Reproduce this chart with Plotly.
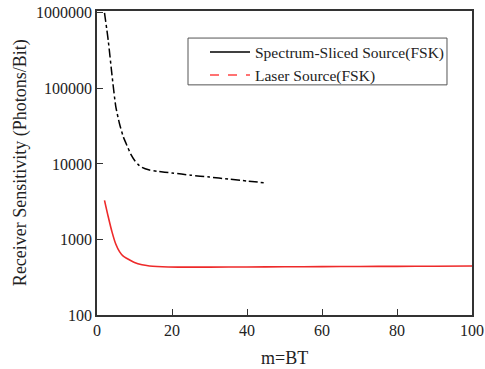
import plotly.graph_objects as go

# Spectrum-sliced source (FSK), dash-dot black
m_ss = [2, 3, 4, 5, 6, 7, 8, 9, 10, 11, 12, 14, 16, 20, 25, 30, 35, 40, 45]
s_ss = [1000000, 430000, 150000, 58000, 34000, 23000, 17500, 13500, 11200, 9800, 9000, 8300, 8000, 7600, 7100, 6700, 6300, 5950, 5600]

# Laser source (FSK), solid red
m_ls = [2, 3, 4, 5, 6, 7, 8, 10, 12, 14, 16, 19, 23, 30, 40, 50, 60, 70, 80, 90, 100]
s_ls = [3300, 2000, 1260, 870, 690, 600, 560, 495, 462, 446, 438, 432, 430, 431, 433, 435, 437, 439, 441, 443, 445]

x_ticks = [0, 20, 40, 60, 80, 100]
y_ticks = [100, 1000, 10000, 100000, 1000000]
legend_names = ["Spectrum-Sliced Source(FSK)", "Laser Source(FSK)"]

FONT = "Liberation Serif, Times New Roman, serif"

fig = go.Figure()
fig.add_trace(go.Scatter(x=m_ss, y=s_ss, mode="lines",
                         line=dict(color="black", width=1.5, dash="dashdot", shape="spline", smoothing=0.6),
                         showlegend=False))
fig.add_trace(go.Scatter(x=m_ls, y=s_ls, mode="lines",
                         line=dict(color="#ee2a2a", width=1.6, shape="spline", smoothing=0.8),
                         showlegend=False))
# legend entries (styles as in the original legend)
fig.add_trace(go.Scatter(x=[None], y=[None], mode="lines", line=dict(color="black", width=1.5), name=legend_names[0]))
fig.add_trace(go.Scatter(x=[None], y=[None], mode="lines", line=dict(color="#ff4444", width=1.5, dash="dash"),
                         name=legend_names[1]))

axis_common = dict(showline=True, linecolor="#333333", linewidth=1.5, mirror=True, ticks="inside", ticklen=6,
                   tickcolor="#333333", tickwidth=1.2, showgrid=False, zeroline=False, automargin=False,
                   tickfont=dict(family=FONT, size=16, color="#222222"))

fig.update_xaxes(range=[0, 100], tickvals=x_ticks, ticktext=[str(v) for v in x_ticks], **axis_common)
fig.update_yaxes(type="log", range=[2, 6.025], tickvals=y_ticks, ticktext=[str(v) for v in y_ticks], **axis_common)

fig.update_layout(
    width=485, height=369,
    margin=dict(l=97, r=13, t=11, b=54),
    plot_bgcolor="white", paper_bgcolor="white",
    font=dict(family=FONT, color="#222222"),
    legend=dict(x=0.288, y=0.92, xanchor="left", yanchor="top", borderwidth=0,
                bgcolor="rgba(0,0,0,0)", font=dict(family=FONT, size=15.5, color="#222222"), tracegroupgap=0,
                itemwidth=40),
    shapes=[dict(type="rect", xref="paper", yref="paper", x0=0.2427, x1=0.9333, y0=0.757, y1=0.911,
                 line=dict(color="#555555", width=1), fillcolor="rgba(0,0,0,0)", layer="below")],
    annotations=[
        dict(text="m=BT", xref="paper", yref="paper", x=0.5, y=-0.143, xanchor="center", yanchor="middle",
             showarrow=False, font=dict(family=FONT, size=18, color="#222222")),
        dict(text="Receiver Sensitivity (Photons/Bit)", xref="paper", yref="paper", x=-0.205, y=0.5,
             xanchor="center", yanchor="middle", textangle=-90, showarrow=False,
             font=dict(family=FONT, size=18, color="#222222")),
    ],
)

fig.write_html("out.html", config={"displayModeBar": False},
               post_script="document.body.style.margin='0';document.body.style.overflow='hidden';")
